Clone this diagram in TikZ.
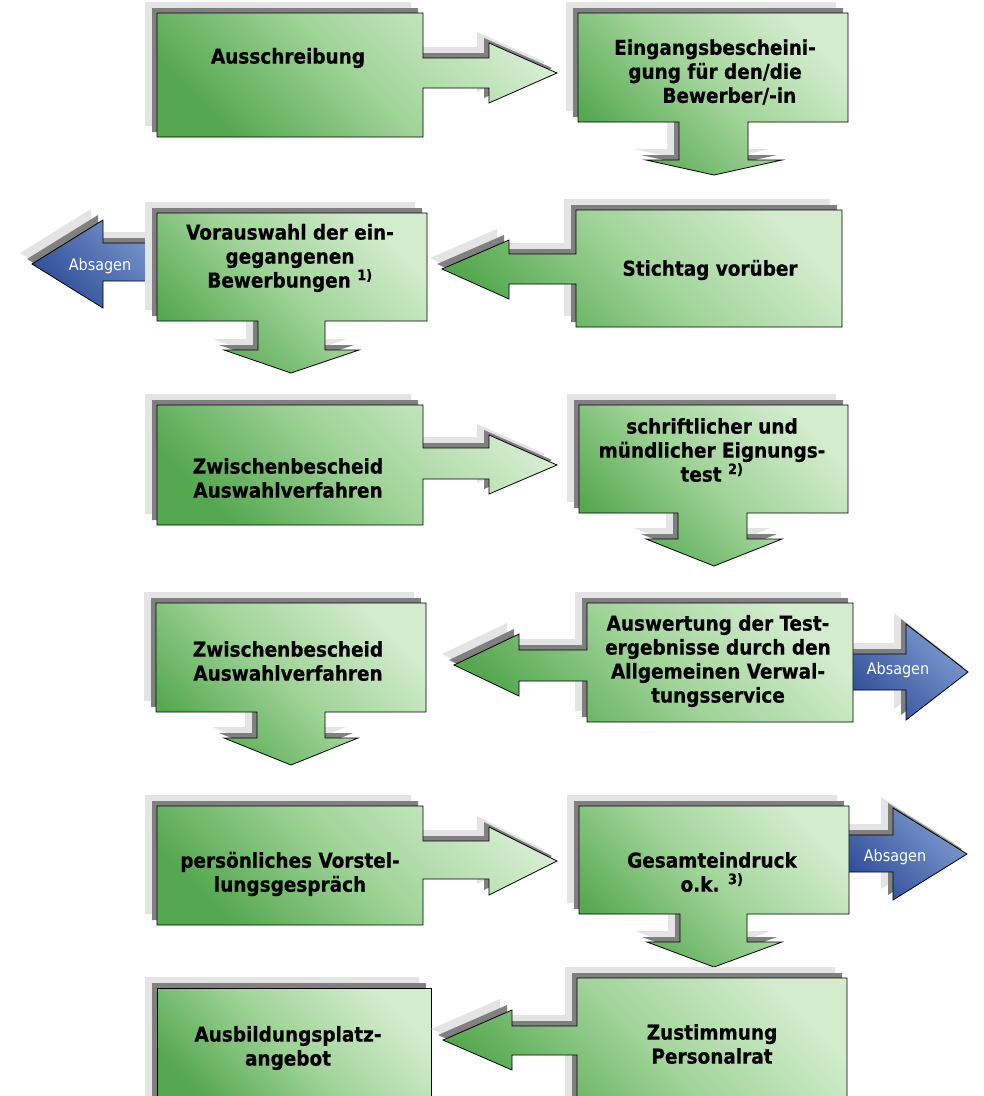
\documentclass[tikz,border=0pt]{standalone}
\usepackage{fontspec}
\newfontfamily\lblfont{DejaVu Sans Condensed}[BoldFeatures={FakeBold=0.6}]
\definecolor{gLight}{RGB}{210,236,205}
\definecolor{gMid}{RGB}{160,212,152}
\definecolor{gDark}{RGB}{85,168,80}
\definecolor{bLight}{RGB}{125,155,208}
\definecolor{bDark}{RGB}{45,75,150}
\definecolor{shLight}{RGB}{228,228,228}
\definecolor{shDark}{RGB}{128,128,128}
\tikzset{
  greenblock/.style={draw=black, line width=0.8pt, line join=miter, top color=gLight, bottom color=gDark, middle color=gMid, shading angle=-45},
  blueblock/.style={draw=black, line width=0.8pt, line join=miter, top color=bLight, bottom color=bDark, shading angle=-45},
  lbl/.style={font=\lblfont\bfseries\fontsize{20.5}{24}\selectfont, align=center, inner sep=0pt, text=black},
  nolbl/.style={font=\lblfont\fontsize{16}{19}\selectfont, inner sep=0pt, text=white},
}
\newcommand\drawblock[2]{%
  \fill[shLight, shift={(-12,-11)}] #2;
  \fill[shDark, shift={(-5,-5)}] #2;
  \path[#1] #2;
}
\begin{document}
\begin{tikzpicture}[x=1pt, y=-1pt]
\useasboundingbox (0,0) rectangle (984,1096);
\clip (0,0) rectangle (984,1096);
\fill[white] (0,0) rectangle (984,1096);
% row 1
\drawblock{greenblock}{(157,13) -- (423,13) -- (423,58) -- (489,58) -- (489,43) -- (557,73) -- (489,103) -- (489,88) -- (423,88) -- (423,137) -- (157,137) -- cycle}
\drawblock{greenblock}{(578,13) -- (848,13) -- (848,122) -- (748,122) -- (748,160) -- (782,160) -- (714,175) -- (646,160) -- (679,160) -- (679,122) -- (578,122) -- cycle}
% row 2
\drawblock{blueblock}{(175,243) -- (103,243) -- (103,220) -- (32,264) -- (103,308) -- (103,281) -- (175,281) -- cycle}
\drawblock{greenblock}{(157,213) -- (427,213) -- (427,321) -- (325,321) -- (325,350) -- (359,350) -- (291,373) -- (224,350) -- (258,350) -- (258,321) -- (157,321) -- cycle}
\drawblock{greenblock}{(576,210) -- (842,210) -- (842,327) -- (576,327) -- (576,284) -- (509,284) -- (509,299) -- (442,269) -- (509,240) -- (509,254) -- (576,254) -- cycle}
% row 3
\drawblock{greenblock}{(157,405) -- (423,405) -- (423,448) -- (489,448) -- (489,435) -- (557,465) -- (489,494) -- (489,479) -- (423,479) -- (423,525) -- (157,525) -- cycle}
\drawblock{greenblock}{(579,405) -- (848,405) -- (848,513) -- (747,513) -- (747,539) -- (782,539) -- (714,566) -- (646,539) -- (678,539) -- (678,513) -- (579,513) -- cycle}
% row 4
\drawblock{greenblock}{(156,603) -- (426,603) -- (426,712) -- (325,712) -- (325,738) -- (358,738) -- (291,765) -- (224,738) -- (257,738) -- (257,712) -- (156,712) -- cycle}
\drawblock{blueblock}{(840,654) -- (906,654) -- (906,624) -- (968,672) -- (906,720) -- (906,690) -- (840,690) -- cycle}
\drawblock{greenblock}{(587,603) -- (853,603) -- (853,722) -- (587,722) -- (587,681) -- (519,681) -- (519,696) -- (454,665) -- (519,634) -- (519,650) -- (587,650) -- cycle}
% row 5
\drawblock{greenblock}{(157,806) -- (423,806) -- (423,841) -- (489,841) -- (489,827) -- (557,861) -- (489,895) -- (489,879) -- (423,879) -- (423,925) -- (157,925) -- cycle}
\drawblock{blueblock}{(840,835) -- (893,835) -- (893,808) -- (967,854) -- (893,900) -- (893,872) -- (840,872) -- cycle}
\drawblock{greenblock}{(579,806) -- (849,806) -- (849,914) -- (747,914) -- (747,942) -- (782,942) -- (714,967) -- (647,942) -- (680,942) -- (680,914) -- (579,914) -- cycle}
% row 6
\drawblock{greenblock}{(157,988) -- (431,988) -- (431,1110) -- (157,1110) -- cycle}
\drawblock{greenblock}{(577,978) -- (847,978) -- (847,1110) -- (577,1110) -- (577,1055) -- (512,1055) -- (512,1070) -- (443,1040) -- (512,1010) -- (512,1026) -- (577,1026) -- cycle}
% texts
\node[lbl] (t1) at (288,58) {Ausschreibung};
\node[lbl] (t2) at (715,72) {Eingangsbescheini-\\gung für den/die\\\hspace*{1.4em}Bewerber/-in};
\node[lbl] (t3) at (290,258) {Vorauswahl der ein-\\gegangenen\\Bewerbungen \textsuperscript{1)}};
\node[lbl] (t4) at (710,270) {Stichtag vorüber};
\node[lbl] (t5) at (288,478) {Zwischenbescheid\\Auswahlverfahren};
\node[lbl] (t6) at (712,450) {schriftlicher und\\mündlicher Eignungs-\\test \textsuperscript{2)}};
\node[lbl] (t7) at (288,661) {Zwischenbescheid\\Auswahlverfahren};
\node[lbl] (t8) at (718,661) {Auswertung der Test-\\ergebnisse durch den\\Allgemeinen Verwal-\\tungsservice};
\node[lbl] (t9) at (290,874) {persönliches Vorstel-\\lungsgespräch};
\node[lbl] (t10) at (712,872) {Gesamteindruck\\o.k. \textsuperscript{3)}};
\node[lbl] (t11) at (288,1048) {Ausbildungsplatz-\\angebot};
\node[lbl] (t12) at (712,1044) {Zustimmung\\Personalrat};
\node[nolbl] (a1) at (100,266) {Absagen};
\node[nolbl] (a2) at (898,670) {Absagen};
\node[nolbl] (a3) at (895,857) {Absagen};
\end{tikzpicture}
\end{document}
